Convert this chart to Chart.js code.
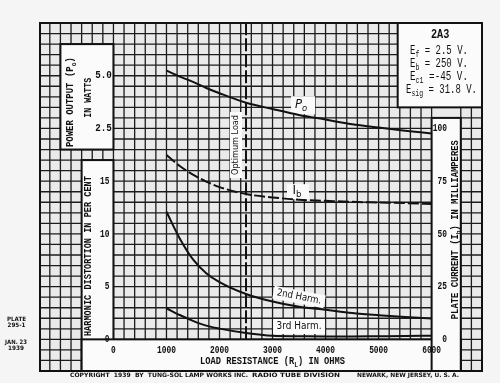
<!DOCTYPE html>
<html><head><meta charset="utf-8">
<script src="https://cdn.jsdelivr.net/npm/chart.js@4.4.0/dist/chart.umd.min.js"></script>
<style>html,body{margin:0;padding:0;background:#f5f5f5;}canvas{display:block;}</style>
</head><body>
<canvas id="c" width="500" height="383"></canvas>
<script>
const loadOhms = [1000, 1250, 1500, 1750, 2000, 2500, 3000, 3500, 4000, 4500, 5000, 5500, 6000];
const powerW   = [5.24, 4.96, 4.71, 4.42, 4.17, 3.72, 3.42, 3.14, 2.92, 2.70, 2.54, 2.39, 2.26];
const plateMA  = [87.4, 82.2, 78.1, 74.8, 72.2, 68.9, 67.3, 66.2, 65.7, 65.2, 64.9, 64.6, 64.2];
const harm2    = [12.1, 9.57, 7.58, 6.27, 5.43, 4.30, 3.59, 3.09, 2.80, 2.50, 2.29, 2.12, 1.98];
const harm3    = [2.95, 2.31, 1.76, 1.30, 1.02, 0.60, 0.34, 0.30, 0.28, 0.28, 0.30, 0.32, 0.35];
const optimumLoad = 2500;

const xTicks       = [0, 1000, 2000, 3000, 4000, 5000, 6000];
const distTicks    = [0, 5, 10, 15];
const powerTicks   = [2.5, 5.0];
const powerLabels  = ['2.5', '5.0'];
const currentTicks = [0, 25, 50, 75, 100];

const tubeName = '2A3';
const infoLines = [
  [{t:'E'},{t:'f',sub:true},{t:' = 2.5 V.'}],
  [{t:'E'},{t:'b',sub:true},{t:' = 250 V.'}],
  [{t:'E'},{t:'c1',sub:true},{t:' =-45 V.'}],
  [{t:'E'},{t:'sig',sub:true},{t:' = 31.8 V.'}]
];

// ---- text helper ----
function rich(ctx, segs, x, y, o) {
  const fam = o.family || 'Liberation Mono';
  const pre = (o.italic ? 'italic ' : '') + (o.bold ? 'bold ' : '');
  const font = s => pre + s + 'px "' + fam + '"';
  let total = 0; const ws = [];
  segs.forEach(s => { ctx.font = font(s.sub ? o.size*0.72 : o.size); const w = ctx.measureText(s.t).width; ws.push(w); total += w; });
  let sx = o.sx || 1; if (o.width) sx = o.width / total;
  ctx.save(); ctx.translate(x, y); if (o.rot) ctx.rotate(o.rot); ctx.scale(sx, 1);
  let start = o.align === 'center' ? -total/2 : (o.align === 'right' ? -total : 0);
  ctx.textBaseline = 'middle'; ctx.textAlign = 'left'; ctx.fillStyle = o.color || '#111';
  segs.forEach((s, i) => {
    ctx.font = font(s.sub ? o.size*0.72 : o.size);
    ctx.fillText(s.t, start, s.sub ? o.size*0.32 : 0);
    start += ws[i];
  });
  ctx.restore();
}
function patch(ctx, cx, cy, w, h, rot) {
  ctx.save(); ctx.translate(cx, cy); if (rot) ctx.rotate(rot);
  ctx.fillStyle = '#fbfbfb'; ctx.fillRect(-w/2, -h/2, w, h); ctx.restore();
}

const paperPlugin = {
  id: 'paper',
  beforeDraw(chart) {
    const ctx = chart.ctx, a = chart.chartArea, X = chart.scales.x, Y = chart.scales.yPct;
    ctx.save();
    ctx.fillStyle = '#f5f5f5'; ctx.fillRect(0, 0, chart.width, chart.height);
    ctx.fillStyle = '#eaeaea'; ctx.fillRect(a.left, a.top, a.right - a.left, a.bottom - a.top);
    // grid
    const xs = [];
    for (let v = -1200; v < 0; v += 200) xs.push(v);
    for (let v = 0; v <= 6000; v += 200) xs.push(v);
    xs.push(6550, 6750);
    ctx.strokeStyle = '#1c1c1c'; ctx.lineWidth = 1.3;
    ctx.beginPath();
    xs.forEach(v => { const p = X.getPixelForValue(v); ctx.moveTo(p, a.top); ctx.lineTo(p, a.bottom); });
    for (let v = Y.min + 1; v < Y.max; v += 1) { const p = Y.getPixelForValue(v); ctx.moveTo(a.left, p); ctx.lineTo(a.right, p); }
    ctx.stroke();
    // white label panels
    const box = (x0, x1, y0, y1) => {
      const l = X.getPixelForValue(x0), r = X.getPixelForValue(x1);
      const t = Y.getPixelForValue(y1), b = Y.getPixelForValue(y0);
      ctx.fillStyle = '#fbfbfb'; ctx.fillRect(l, t, r - l, b - t);
      ctx.strokeStyle = '#111'; ctx.lineWidth = 2; ctx.strokeRect(l, t, r - l, b - t);
    };
    box(-1000, 0, 18, 28);      // power output panel
    box(-600, 0, -3, 17);       // harmonic distortion panel
    box(-600, 6550, -3, 0);     // load resistance band
    box(6000, 6550, -3, 21);    // plate current panel
    box(5360, 6950, 22, 30);    // tube data box
    // outer border
    ctx.strokeStyle = '#111'; ctx.lineWidth = 2;
    ctx.strokeRect(a.left, a.top, a.right - a.left, a.bottom - a.top);
    // patches behind curve labels
    const P = (x, y) => [X.getPixelForValue(x), Y.getPixelForValue(y)];
    let q;
    q = P(3537, 22.3); patch(ctx, q[0] + 2, q[1] + 1, 24, 18);
    q = P(3461, 14.1); patch(ctx, q[0] + 1, q[1] + 1, 22, 15);
    q = P(3500, 4.02); patch(ctx, q[0], q[1], 52, 13, 0.19);
    q = P(3500, 1.22); patch(ctx, q[0], q[1], 52, 15);
    q = P(2311, 18.43); patch(ctx, q[0], q[1], 12, 66);
    ctx.restore();
  },
  afterDraw(chart) {
    const ctx = chart.ctx, X = chart.scales.x, Y = chart.scales.yPct, W = chart.scales.yW, M = chart.scales.yMA;
    const B = {size: 10.5, bold: true, sx: 0.75};
    // x ticks & title
    xTicks.forEach(v => rich(ctx, [{t: String(v)}], X.getPixelForValue(v), Y.getPixelForValue(-1), Object.assign({align: 'center'}, B)));
    rich(ctx, [{t:'LOAD RESISTANCE (R'},{t:'L',sub:true},{t:') IN OHMS'}], X.getPixelForValue(3000), Y.getPixelForValue(-2.1), {size: 10.5, bold: true, width: 145, align: 'center'});
    // distortion axis
    distTicks.forEach(v => rich(ctx, [{t: String(v)}], X.getPixelForValue(-75), Y.getPixelForValue(v), Object.assign({align: 'right'}, B)));
    rich(ctx, [{t:'HARMONIC DISTORTION IN PER CENT'}], X.getPixelForValue(-470), Y.getPixelForValue(7.9), {size: 10.5, bold: true, width: 160, align: 'center', rot: -Math.PI/2});
    // power axis
    powerTicks.forEach((v, i) => rich(ctx, [{t: powerLabels[i]}], X.getPixelForValue(-30), W.getPixelForValue(v), {size: 10.5, bold: true, sx: 0.88, align: 'right'}));
    rich(ctx, [{t:'POWER OUTPUT (P'},{t:'o',sub:true},{t:')'}], X.getPixelForValue(-810), Y.getPixelForValue(22.5), {size: 10.5, bold: true, width: 90, align: 'center', rot: -Math.PI/2});
    rich(ctx, [{t:'IN WATTS'}], X.getPixelForValue(-480), Y.getPixelForValue(22.9), {size: 10.5, bold: true, width: 40, align: 'center', rot: -Math.PI/2});
    // plate current axis
    currentTicks.forEach(v => rich(ctx, [{t: String(v)}], X.getPixelForValue(6290), M.getPixelForValue(v), Object.assign({align: 'right'}, B)));
    rich(ctx, [{t:'PLATE CURRENT (I'},{t:'b',sub:true},{t:') IN MILLIAMPERES'}], X.getPixelForValue(6450), Y.getPixelForValue(10.4), {size: 10.5, bold: true, width: 179, align: 'center', rot: -Math.PI/2});
    // tube data
    rich(ctx, [{t: tubeName}], X.getPixelForValue(6160), Y.getPixelForValue(28.9), {size: 12, bold: true, sx: 0.85, align: 'center'});
    const infoY = [27.4, 26.15, 24.9, 23.65];
    const infoW = [58, 58, 58, 71];
    const infoX = [5592, 5592, 5592, 5517];
    infoLines.forEach((segs, i) => rich(ctx, segs, X.getPixelForValue(infoX[i]), Y.getPixelForValue(infoY[i]), {size: 12, width: infoW[i], align: 'left'}));
    // curve labels
    rich(ctx, [{t:'P'},{t:'o',sub:true}], X.getPixelForValue(3537), Y.getPixelForValue(22.3), {size: 13, italic: true, family: 'DejaVu Sans', align: 'center', sx: 0.9});
    rich(ctx, [{t:'I'},{t:'b',sub:true}], X.getPixelForValue(3461), Y.getPixelForValue(14.1), {size: 12, family: 'DejaVu Sans', align: 'center'});
    rich(ctx, [{t:'2nd Harm.'}], X.getPixelForValue(3500), Y.getPixelForValue(4.02), {size: 10, family: 'DejaVu Sans', width: 45, align: 'center', rot: 0.19});
    rich(ctx, [{t:'3rd Harm.'}], X.getPixelForValue(3500), Y.getPixelForValue(1.22), {size: 10, family: 'DejaVu Sans', width: 45, align: 'center'});
    rich(ctx, [{t:'Optimum Load'}], X.getPixelForValue(2311), Y.getPixelForValue(18.43), {size: 9.5, family: 'DejaVu Sans', width: 60, align: 'center', rot: -Math.PI/2});
    // footer and margin notes
    const S = {size: 6, bold: true, family: 'DejaVu Sans', align: 'left'};
    rich(ctx, [{t:'COPYRIGHT  1939  BY  TUNG-SOL LAMP WORKS INC.'}], 70, 375, Object.assign({width: 178}, S));
    rich(ctx, [{t:'RADIO TUBE DIVISION'}], 252, 375, Object.assign({width: 88}, S));
    rich(ctx, [{t:'NEWARK, NEW JERSEY, U. S. A.'}], 357, 375, Object.assign({width: 102}, S));
    const C = {size: 6, bold: true, family: 'DejaVu Sans', align: 'center'};
    rich(ctx, [{t:'PLATE'}], 16.5, 319, Object.assign({width: 19}, C));
    rich(ctx, [{t:'295-1'}], 16.5, 325, Object.assign({width: 18}, C));
    rich(ctx, [{t:'JAN. 23'}], 16, 342, Object.assign({width: 22}, C));
    rich(ctx, [{t:'1939'}], 16, 348, Object.assign({width: 16}, C));
  }
};

const pts = (ys) => loadOhms.map((x, i) => ({x: x, y: ys[i]}));
const line = (extra) => Object.assign({borderColor: '#111', borderWidth: 2, pointRadius: 0, fill: false, cubicInterpolationMode: 'monotone'}, extra);

new Chart(document.getElementById('c'), {
  type: 'line',
  data: {
    datasets: [
      line({label: 'Po', data: pts(powerW), yAxisID: 'yW'}),
      line({label: 'Ib', data: pts(plateMA), yAxisID: 'yMA', borderDash: [11, 3]}),
      line({label: '2nd Harm.', data: pts(harm2), yAxisID: 'yPct'}),
      line({label: '3rd Harm.', data: pts(harm3), yAxisID: 'yPct'}),
      line({label: 'Optimum Load', data: [{x: optimumLoad, y: 0}, {x: optimumLoad, y: 30}], yAxisID: 'yPct', borderDash: [13, 3], cubicInterpolationMode: 'default', tension: 0})
    ]
  },
  options: {
    responsive: false, animation: false, devicePixelRatio: 1,
    layout: {padding: {left: 40, right: 18, top: 23, bottom: 12}},
    plugins: {legend: {display: false}, tooltip: {enabled: false}},
    scales: {
      x:    {type: 'linear', min: -1385, max: 6950, display: false},
      yPct: {type: 'linear', min: -3, max: 30, display: false},
      yW:   {type: 'linear', min: -9, max: 7.5, display: false},
      yMA:  {type: 'linear', min: -15, max: 150, display: false}
    }
  },
  plugins: [paperPlugin]
});
</script>
</body></html>
